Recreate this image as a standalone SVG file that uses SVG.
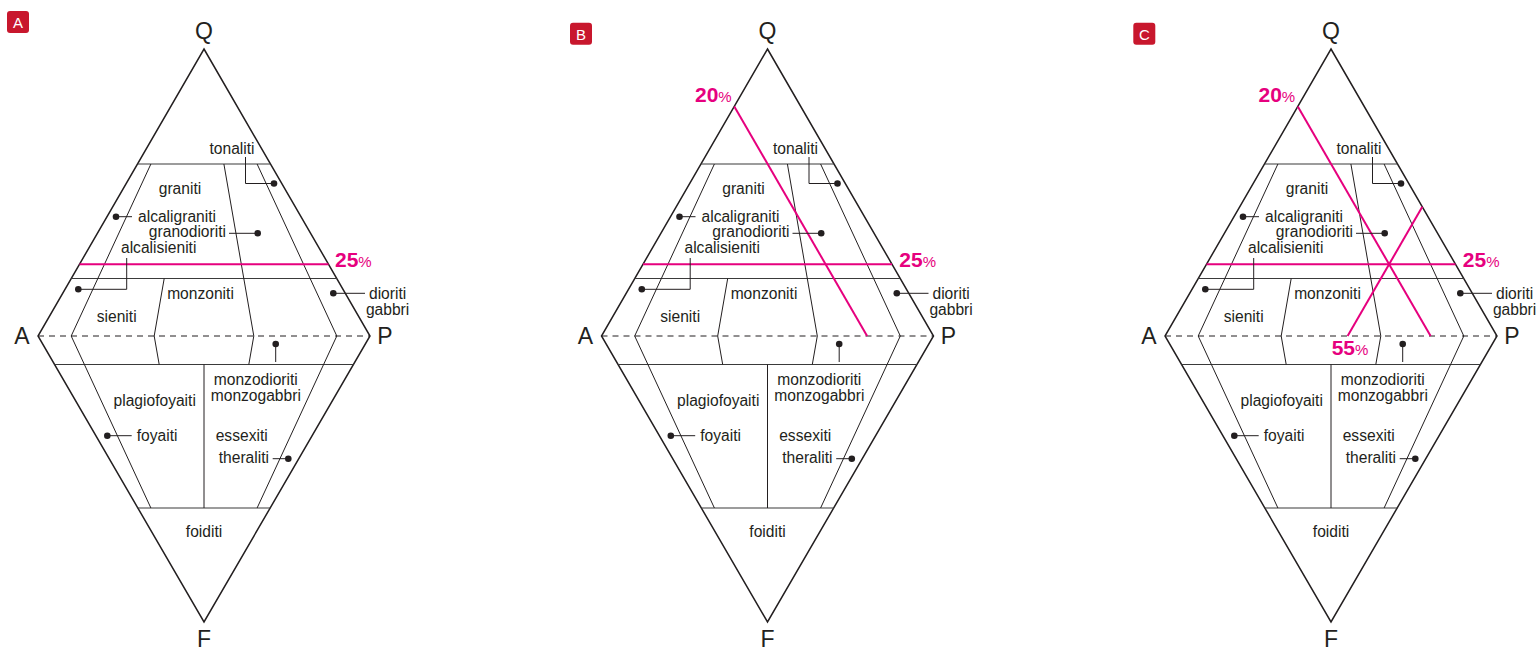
<svg xmlns="http://www.w3.org/2000/svg" width="1538" height="650" viewBox="0 0 1538 650">
<style>
.bg{fill:#fff}
.out{fill:none;stroke:#231f20;stroke-width:1.5;stroke-linejoin:miter}
.ln{fill:none;stroke:#231f20;stroke-width:1}
.hl{fill:none;stroke:#3a3a3a;stroke-width:1.2}
.dash{fill:none;stroke:#231f20;stroke-width:1;stroke-dasharray:6,5}
.ld{fill:none;stroke:#231f20;stroke-width:1}
.dot{fill:#231f20}
.mg{fill:none;stroke:#e6007e;stroke-width:2}
.t{font-family:"Liberation Sans",Arial,sans-serif;font-size:15.6px;fill:#231f20}
.v{font-family:"Liberation Sans",Arial,sans-serif;font-size:23px;fill:#231f20;text-anchor:middle}
.pc{font-family:"Liberation Sans",Arial,sans-serif;font-size:21px;font-weight:bold;fill:#e6007e}
.ps{font-size:15px;font-weight:normal}
.bd{fill:#c8172d}
.bt{font-family:"Liberation Sans",Arial,sans-serif;font-size:15px;fill:#fff;text-anchor:middle}
.m{text-anchor:middle}
.e{text-anchor:end}
</style>
<rect class="bg" x="0" y="0" width="1538" height="650"/>

<g id="panelA">
<g id="badgeA"><rect class="bd" x="7" y="11" width="22" height="22" rx="3"/><text class="bt" x="18" y="28">A</text></g>
<g id="gridA">
<path class="out" d="M204,49 L370,336 L204,622 L38,336 Z"/>
<path class="dash" d="M38,336 H370"/>
<path class="hl" d="M137.6,164 H270.4 M71.2,278.5 H336.8 M54.6,364.5 H353.4 M137.6,508 H270.4"/>
<path class="ln" d="M150.9,164 L71.2,336 L150.9,508 M223.9,164 L253.8,336 L248.8,364.5 M257.1,164 L336.8,336 L257.1,508 M164.2,278.5 L154.2,336 L159.2,364.5 M204,364.5 V508"/>
</g>
<g id="markA"><path class="mg" d="M79.5,264.25 H328.5"/><text class="pc" x="335" y="266.7">25<tspan class="ps">%</tspan></text></g>
<g id="labelsA">
<text class="v" x="204" y="39">Q</text>
<text class="v" x="22" y="344">A</text>
<text class="v" x="385" y="344">P</text>
<text class="v" x="204" y="647">F</text>
<text class="t m" x="232" y="154">tonaliti</text>
<path class="ld" d="M245.5,157 V183.5 H274"/><circle class="dot" cx="274" cy="183.5" r="3.3"/>
<text class="t m" x="180" y="194">graniti</text>
<text class="t" x="138" y="221.5">alcaligraniti</text>
<path class="ld" d="M116,216.7 H132"/><circle class="dot" cx="116" cy="216.7" r="3.3"/>
<text class="t e" x="226" y="237">granodioriti</text>
<path class="ld" d="M229,233.3 H257.7"/><circle class="dot" cx="257.7" cy="233.3" r="3.3"/>
<text class="t m" x="158.7" y="253">alcalisieniti</text>
<path class="ld" d="M126.7,258 V289.3 H78.3"/><circle class="dot" cx="78.3" cy="289.3" r="3.3"/>
<text class="t m" x="200.5" y="299">monzoniti</text>
<text class="t m" x="387.6" y="299">dioriti</text>
<text class="t m" x="387.6" y="315">gabbri</text>
<path class="ld" d="M333.3,293.3 H365"/><circle class="dot" cx="333.3" cy="293.3" r="3.3"/>
<text class="t m" x="116.7" y="321.7">sieniti</text>
<path class="ld" d="M275.7,344 V362"/><circle class="dot" cx="275.7" cy="344" r="3.3"/>
<text class="t m" x="255.8" y="385">monzodioriti</text>
<text class="t m" x="255.8" y="400.7">monzogabbri</text>
<text class="t m" x="154.7" y="406">plagiofoyaiti</text>
<text class="t" x="136.7" y="440.7">foyaiti</text>
<path class="ld" d="M107.3,435.7 H131.7"/><circle class="dot" cx="107.3" cy="435.7" r="3.3"/>
<text class="t m" x="241.7" y="440.7">essexiti</text>
<text class="t e" x="269" y="463.3">theraliti</text>
<path class="ld" d="M272.7,458.7 H288.3"/><circle class="dot" cx="288.3" cy="458.7" r="3.3"/>
<text class="t m" x="204" y="536.7">foiditi</text>
</g>
</g>

<g id="panelB" transform="translate(563.5,0)">
<g id="badgeB"><rect class="bd" x="6.5" y="22.7" width="22" height="22" rx="3"/><text class="bt" x="17.5" y="39.5">B</text></g>
<g id="gridB">
<path class="out" d="M204,49 L370,336 L204,622 L38,336 Z"/>
<path class="dash" d="M38,336 H370"/>
<path class="hl" d="M137.6,164 H270.4 M71.2,278.5 H336.8 M54.6,364.5 H353.4 M137.6,508 H270.4"/>
<path class="ln" d="M150.9,164 L71.2,336 L150.9,508 M223.9,164 L253.8,336 L248.8,364.5 M257.1,164 L336.8,336 L257.1,508 M164.2,278.5 L154.2,336 L159.2,364.5 M204,364.5 V508"/>
</g>
<g id="markB">
<path class="mg" d="M79.5,264.25 H328.5"/><text class="pc" x="335.8" y="266.7">25<tspan class="ps">%</tspan></text>
<path class="mg" d="M170.8,106.4 L303.6,336"/><text class="pc" x="131.5" y="102.3">20<tspan class="ps">%</tspan></text>
</g>
<g id="labelsB">
<text class="v" x="204" y="39">Q</text>
<text class="v" x="22" y="344">A</text>
<text class="v" x="385" y="344">P</text>
<text class="v" x="204" y="647">F</text>
<text class="t m" x="232" y="154">tonaliti</text>
<path class="ld" d="M245.5,157 V183.5 H274"/><circle class="dot" cx="274" cy="183.5" r="3.3"/>
<text class="t m" x="180" y="194">graniti</text>
<text class="t" x="138" y="221.5">alcaligraniti</text>
<path class="ld" d="M116,216.7 H132"/><circle class="dot" cx="116" cy="216.7" r="3.3"/>
<text class="t e" x="226" y="237">granodioriti</text>
<path class="ld" d="M229,233.3 H257.7"/><circle class="dot" cx="257.7" cy="233.3" r="3.3"/>
<text class="t m" x="158.7" y="253">alcalisieniti</text>
<path class="ld" d="M126.7,258 V289.3 H78.3"/><circle class="dot" cx="78.3" cy="289.3" r="3.3"/>
<text class="t m" x="200.5" y="299">monzoniti</text>
<text class="t m" x="387.6" y="299">dioriti</text>
<text class="t m" x="387.6" y="315">gabbri</text>
<path class="ld" d="M333.3,293.3 H365"/><circle class="dot" cx="333.3" cy="293.3" r="3.3"/>
<text class="t m" x="116.7" y="321.7">sieniti</text>
<path class="ld" d="M275.7,344 V362"/><circle class="dot" cx="275.7" cy="344" r="3.3"/>
<text class="t m" x="255.8" y="385">monzodioriti</text>
<text class="t m" x="255.8" y="400.7">monzogabbri</text>
<text class="t m" x="154.7" y="406">plagiofoyaiti</text>
<text class="t" x="136.7" y="440.7">foyaiti</text>
<path class="ld" d="M107.3,435.7 H131.7"/><circle class="dot" cx="107.3" cy="435.7" r="3.3"/>
<text class="t m" x="241.7" y="440.7">essexiti</text>
<text class="t e" x="269" y="463.3">theraliti</text>
<path class="ld" d="M272.7,458.7 H288.3"/><circle class="dot" cx="288.3" cy="458.7" r="3.3"/>
<text class="t m" x="204" y="536.7">foiditi</text>
</g>
</g>

<g id="panelC" transform="translate(1127,0)">
<g id="badgeC"><rect class="bd" x="6.3" y="22.7" width="22" height="22" rx="3"/><text class="bt" x="17.3" y="39.5">C</text></g>
<g id="gridC">
<path class="out" d="M204,49 L370,336 L204,622 L38,336 Z"/>
<path class="dash" d="M38,336 H370"/>
<path class="hl" d="M137.6,164 H270.4 M71.2,278.5 H336.8 M54.6,364.5 H353.4 M137.6,508 H270.4"/>
<path class="ln" d="M150.9,164 L71.2,336 L150.9,508 M223.9,164 L253.8,336 L248.8,364.5 M257.1,164 L336.8,336 L257.1,508 M164.2,278.5 L154.2,336 L159.2,364.5 M204,364.5 V508"/>
</g>
<g id="markC">
<path class="mg" d="M79.5,264.25 H328.5"/><text class="pc" x="335.8" y="266.7">25<tspan class="ps">%</tspan></text>
<path class="mg" d="M170.8,106.4 L303.6,336"/><text class="pc" x="131.5" y="102.3">20<tspan class="ps">%</tspan></text>
<path class="mg" d="M220.6,336 L295.3,206.85"/><text class="pc" x="204.7" y="355">55<tspan class="ps">%</tspan></text>
</g>
<g id="labelsC">
<text class="v" x="204" y="39">Q</text>
<text class="v" x="22" y="344">A</text>
<text class="v" x="385" y="344">P</text>
<text class="v" x="204" y="647">F</text>
<text class="t m" x="232" y="154">tonaliti</text>
<path class="ld" d="M245.5,157 V183.5 H274"/><circle class="dot" cx="274" cy="183.5" r="3.3"/>
<text class="t m" x="180" y="194">graniti</text>
<text class="t" x="138" y="221.5">alcaligraniti</text>
<path class="ld" d="M116,216.7 H132"/><circle class="dot" cx="116" cy="216.7" r="3.3"/>
<text class="t e" x="226" y="237">granodioriti</text>
<path class="ld" d="M229,233.3 H257.7"/><circle class="dot" cx="257.7" cy="233.3" r="3.3"/>
<text class="t m" x="158.7" y="253">alcalisieniti</text>
<path class="ld" d="M126.7,258 V289.3 H78.3"/><circle class="dot" cx="78.3" cy="289.3" r="3.3"/>
<text class="t m" x="200.5" y="299">monzoniti</text>
<text class="t m" x="387.6" y="299">dioriti</text>
<text class="t m" x="387.6" y="315">gabbri</text>
<path class="ld" d="M333.3,293.3 H365"/><circle class="dot" cx="333.3" cy="293.3" r="3.3"/>
<text class="t m" x="116.7" y="321.7">sieniti</text>
<path class="ld" d="M275.7,344 V362"/><circle class="dot" cx="275.7" cy="344" r="3.3"/>
<text class="t m" x="255.8" y="385">monzodioriti</text>
<text class="t m" x="255.8" y="400.7">monzogabbri</text>
<text class="t m" x="154.7" y="406">plagiofoyaiti</text>
<text class="t" x="136.7" y="440.7">foyaiti</text>
<path class="ld" d="M107.3,435.7 H131.7"/><circle class="dot" cx="107.3" cy="435.7" r="3.3"/>
<text class="t m" x="241.7" y="440.7">essexiti</text>
<text class="t e" x="269" y="463.3">theraliti</text>
<path class="ld" d="M272.7,458.7 H288.3"/><circle class="dot" cx="288.3" cy="458.7" r="3.3"/>
<text class="t m" x="204" y="536.7">foiditi</text>
</g>
</g>
</svg>
